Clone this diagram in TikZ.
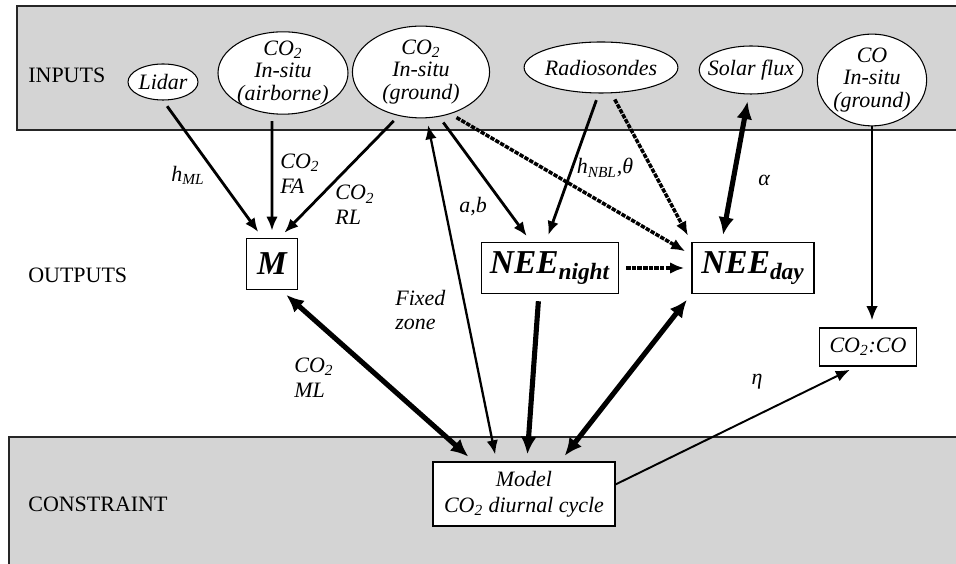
\documentclass[tikz,border=0pt]{standalone}
\usepackage{fontspec}
\setmainfont{Liberation Serif}
\usetikzlibrary{arrows.meta,shapes.geometric}

\tikzstyle{dato}= [ellipse,draw,black,fill=white,line width=0.6pt,inner sep=0pt,align=center,font=\fontsize{12.5}{13}\selectfont\itshape]
\tikzstyle{caja}= [rectangle,draw,black,fill=white,line width=0.8pt,align=center]
\tikzstyle{grande}= [font=\fontsize{19}{19}\selectfont\bfseries\itshape]
\tikzstyle{texto}= [font=\fontsize{12.5}{14}\selectfont\itshape,align=left,inner sep=0pt]
\tikzstyle{seccion}= [font=\fontsize{12.5}{14}\selectfont,anchor=west,inner sep=0pt]
\tikzstyle{banda}= [draw=black!85,fill=black!17,line width=0.8pt]
\tikzstyle{flecha}= [black,line width=1.6pt,-{Latex[length=8pt,width=6.5pt]},shorten <=4pt,shorten >=4pt]
\tikzstyle{gruesa}= [black,line width=2.9pt,-{Latex[length=10pt,width=9pt]},shorten <=4pt,shorten >=4pt]
\tikzstyle{punteada}= [black,line width=2pt,dash pattern=on 2.5pt off 0.7pt,-{Latex[length=8pt,width=6.5pt]},shorten <=4pt,shorten >=4pt]
\tikzstyle{doble}= [{Latex[length=8pt,width=6.5pt]}-{Latex[length=8pt,width=6.5pt]}]
\tikzstyle{doblegruesa}= [{Latex[length=10pt,width=9pt]}-{Latex[length=10pt,width=9pt]}]

\begin{document}
\begin{tikzpicture}
		\clip (0,0) rectangle (19.12,11.26);

		% bands
		\draw[banda] (0.34,8.66) rectangle (19.6,11.14);
		\draw[banda] (0.18,-0.5) rectangle (19.6,2.52);

		\node (inputs) at (0.56,9.76) [seccion] {INPUTS};
		\node (outputs) at (0.56,5.76) [seccion] {OUTPUTS};
		\node (constraint) at (0.56,1.18) [seccion] {CONSTRAINT};

		% inputs
		\node (lidar) at (3.26,9.62) [dato,minimum width=1.4cm,minimum height=0.72cm] {Lidar};
		\node (aire) at (5.66,9.8) [dato,minimum width=2.6cm,inner ysep=-1.9pt] {CO\textsubscript{2}\\In-situ\\(airborne)};
		\node (suelo) at (8.42,9.82) [dato,inner xsep=5.6pt] {CO\textsubscript{2}\\In-situ\\(ground)};
		\node (radio) at (12.02,9.91) [dato,inner xsep=-1pt,minimum height=1.02cm] {Radiosondes};
		\node (sol) at (15.02,9.86) [dato,inner xsep=-3.6pt,minimum height=0.96cm] {Solar flux};
		\node (co) at (17.44,9.66) [dato] {CO\\In-situ\\(ground)};

		% outputs
		\node (m) at (5.44,5.98) [caja,grande,minimum width=1.02cm,minimum height=1.02cm] {M};
		\node (noche) at (11.0,5.9) [caja,grande,minimum width=2.74cm,minimum height=1.02cm] {NEE\textsubscript{night}};
		\node (dia) at (15.06,5.9) [caja,grande,minimum width=2.44cm,minimum height=1.02cm] {NEE\textsubscript{day}};
		\node (ratio) at (17.36,4.32) [caja,font=\fontsize{12.5}{14}\selectfont\itshape,minimum width=1.94cm,minimum height=0.76cm] {CO\textsubscript{2}:CO};

		% constraint
		\node (modelo) at (10.48,1.38) [caja,font=\fontsize{12.5}{14}\selectfont\itshape,minimum width=3.64cm,minimum height=1.28cm] {Model\\[1pt]CO\textsubscript{2} diurnal cycle};

		% labels
		\node (lhml) at (3.76,7.76) [texto] {h\textsubscript{ML}};
		\node (lfa) at (5.6,7.79) [texto,anchor=west] {CO\textsubscript{2}\\FA};
		\node (lrl) at (6.7,7.16) [texto,anchor=west] {CO\textsubscript{2}\\RL};
		\node (lab) at (9.46,7.12) [texto] {a,b};
		\node (lfija) at (7.9,5.06) [texto,anchor=west] {Fixed\\zone};
		\node (lnbl) at (12.1,7.9) [texto] {h\textsubscript{NBL},θ};
		\node (lalfa) at (15.28,7.66) [texto] {α};
		\node (lml) at (5.88,3.71) [texto,anchor=west] {CO\textsubscript{2}\\ML};
		\node (leta) at (15.14,3.62) [texto] {η};

		\path[flecha] (lidar.south) edge (m.110);
		\path[flecha] (aire.-105) edge (m.north);
		\path[flecha] (suelo.-117) edge (m.74);
		\path[flecha] (suelo.-68) edge (noche.126);
		\path[punteada] (suelo.-55) edge (dia.168);
		\path[flecha] (radio.265) edge (noche.99);
		\path[punteada] (radio.-68) edge (dia.north west);
		\path[gruesa,doblegruesa] (sol.-95) edge (dia.140);
		\path[punteada] (noche.east) edge (dia.west);

		\path[flecha,line width=1.3pt,shorten <=0pt] (co.south) edge (co.south |- ratio.north);
		\path[flecha,line width=1.1pt,shorten <=0pt] (modelo.6) edge (ratio.-121);

		\path[gruesa,doblegruesa] (m.-71) edge (modelo.147);
		\path[flecha,doble,line width=1.3pt] (suelo.-83) edge (modelo.130);
		\path[gruesa] (noche.-113) edge (modelo.85);
		\path[gruesa,doblegruesa] (dia.south west) edge (modelo.42);

\end{tikzpicture}
\end{document}
